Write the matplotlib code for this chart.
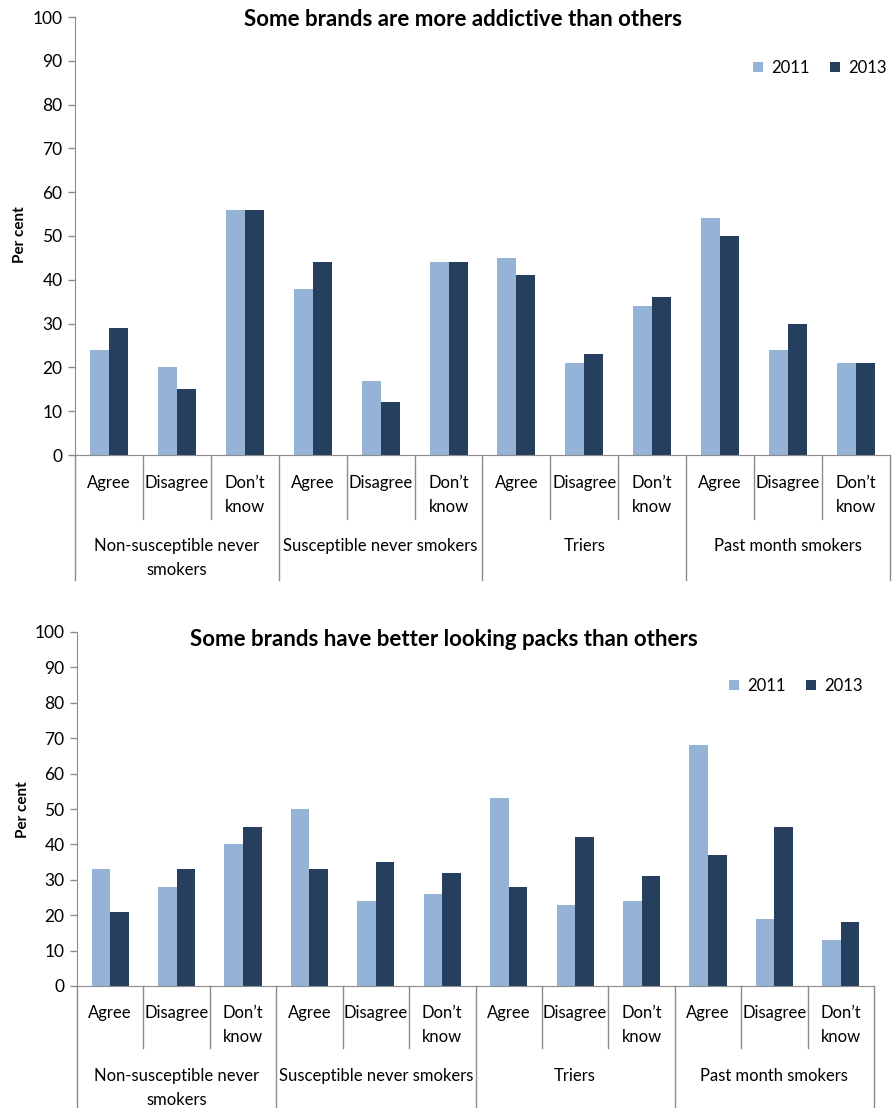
import numpy as np
import matplotlib
matplotlib.use("Agg")
import matplotlib.pyplot as plt

plt.rcParams['font.family'] = ['Lato', 'DejaVu Sans']

groups = ["Non-susceptible never\nsmokers", "Susceptible never smokers", "Triers", "Past month smokers"]
answers = ["Agree", "Disagree", "Don\u2019t\nknow"]
years = ["2011", "2013"]

addictive_2011 = [24, 20, 56, 38, 17, 44, 45, 21, 34, 54, 24, 21]
addictive_2013 = [29, 15, 56, 44, 12, 44, 41, 23, 36, 50, 30, 21]

packs_2011 = [33, 28, 40, 50, 24, 26, 53, 23, 24, 68, 19, 13]
packs_2013 = [21, 33, 45, 33, 35, 32, 28, 42, 31, 37, 45, 18]

light = "#95B3D7"
dark = "#263F5F"
grey = "#8C8C8C"

W, H = 893, 1108
fig = plt.figure(figsize=(W / 100, H / 100), dpi=100)


def panel(rect, v2011, v2013, title, title_y, leg_xy, ylab_xy, cat_gap, div_len, grp_gap, grp_len):
    ax = fig.add_axes(rect)
    ax_h = rect[3] * H
    x = np.arange(12)
    bw = 0.28
    ax.bar(x - bw / 2, v2011, bw, color=light, label=years[0])
    ax.bar(x + bw / 2, v2013, bw, color=dark, label=years[1])
    ax.set_xlim(-0.5, 11.5)
    ax.set_ylim(0, 100)
    ax.set_yticks(range(0, 101, 10))
    ax.tick_params(axis='y', labelsize=12.5, color=grey, length=5, width=1, pad=4)
    ax.set_xticks([])
    for s in ['top', 'right']:
        ax.spines[s].set_visible(False)
    ax.spines['left'].set_color(grey)
    ax.spines['bottom'].set_color(grey)
    fig.text(ylab_xy[0] / W, 1 - ylab_xy[1] / H, "Per cent", rotation=90, ha='center', va='center',
             fontsize=11, fontweight='bold')

    tr = ax.get_xaxis_transform()
    # category dividers and labels
    for i in range(12):
        ax.text(i, -cat_gap / ax_h, answers[i % 3], transform=tr, ha='center', va='top',
                fontsize=12, linespacing=1.6)
    for b in np.arange(-0.5, 12, 1):
        if b in (-0.5, 2.5, 5.5, 8.5, 11.5):
            ln = grp_len
        else:
            ln = div_len
        ax.plot([b, b], [0, -ln / ax_h], transform=tr, color=grey, lw=1, clip_on=False)
    for g in range(4):
        ax.text(3 * g + 1, -grp_gap / ax_h, groups[g], transform=tr, ha='center', va='top',
                fontsize=12, linespacing=1.6)

    fig.text(title[1], 1 - title_y / H, title[0], ha='center', va='center',
             fontsize=16, fontweight='bold')
    ax.legend(loc='center', bbox_to_anchor=(leg_xy[0], leg_xy[1]), bbox_transform=fig.transFigure,
              ncol=2, frameon=False, fontsize=12, handlelength=0.6, handleheight=0.6,
              columnspacing=1.2, handletextpad=0.5)
    return ax


panel([75 / W, 1 - 455 / H, (890 - 75) / W, (455 - 17) / H], addictive_2011, addictive_2013,
      ("Some brands are more addictive than others", 463 / W), 20,
      (820 / W, 1 - 68 / H), (20, 235), 20, 64, 83, 125)

panel([77 / W, 1 - 986 / H, (874 - 77) / W, (986 - 632) / H], packs_2011, packs_2013,
      ("Some brands have better looking packs than others", 444 / W), 640,
      (796 / W, 1 - 686 / H), (23, 810), 19, 62, 82, 125)

fig.savefig("out.png", dpi=100)
